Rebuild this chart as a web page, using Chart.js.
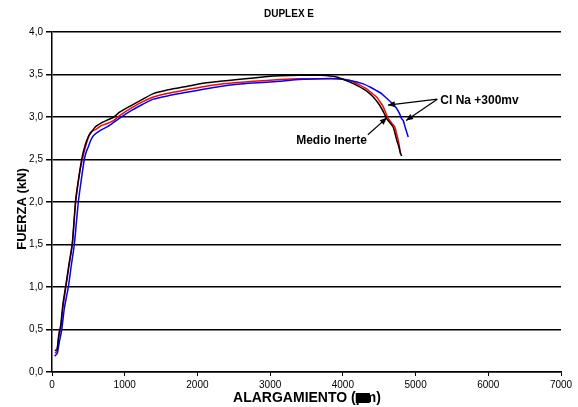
<!DOCTYPE html>
<html>
<head>
<meta charset="utf-8">
<script src="https://cdn.jsdelivr.net/npm/chart.js@4.4.1/dist/chart.umd.min.js"></script>
<style>
html,body{margin:0;padding:0;background:#fff;}
#wrap{width:578px;height:407px;}
</style>
</head>
<body>
<div id="wrap"><canvas id="c" width="578" height="407"></canvas></div>
<script>
// ---- Data (alargamiento, fuerza) ----
const chartTitle = "DUPLEX E";
const xTitle = "ALARGAMIENTO (µm)";
const yTitle = "FUERZA (kN)";
const xTicks = [0,1000,2000,3000,4000,5000,6000,7000];
const yTicks = [0,0.5,1,1.5,2,2.5,3,3.5,4];

const inerteX = [40,70,95,120,150,190,230,280,325,385,420,460,500,540,591,680,752,850,935,1100,1250,1393,1600,1852,2100,2310,2550,2768,3000,3135,3400,3700,3914,4098,4200,4280,4350,4418,4480,4533,4570,4602,4650,4693,4720,4740,4770,4790,4808];
const inerteY = [0.25,0.27,0.45,0.55,0.8,1.02,1.25,1.52,2.02,2.38,2.55,2.68,2.77,2.82,2.88,2.93,2.96,3.0,3.06,3.14,3.21,3.275,3.32,3.36,3.40,3.42,3.44,3.46,3.48,3.485,3.49,3.49,3.47,3.41,3.37,3.33,3.29,3.235,3.17,3.10,3.04,2.98,2.93,2.88,2.80,2.73,2.65,2.58,2.54];

const redX = [41,70,90,119,150,192,235,280,326,385,417,460,500,522,545,614,680,752,850,935,1100,1250,1393,1600,1852,2100,2310,2550,2768,3135,3400,3700,3914,4098,4200,4327,4400,4464,4510,4556,4590,4625,4670,4716,4740,4761,4780,4795];
const redY = [0.22,0.25,0.4,0.5,0.75,1.0,1.25,1.5,2.0,2.37,2.5,2.65,2.76,2.81,2.83,2.86,2.9,2.92,2.96,3.02,3.11,3.18,3.235,3.28,3.32,3.36,3.385,3.405,3.42,3.44,3.45,3.45,3.45,3.43,3.39,3.33,3.28,3.235,3.18,3.12,3.05,2.98,2.93,2.88,2.80,2.73,2.64,2.56];

const blueX = [37,73,100,133,170,225,265,307,362,398,444,475,500,530,568,660,750,821,935,1100,1250,1393,1600,1852,2100,2310,2550,2768,3135,3400,3700,3914,4098,4281,4380,4464,4540,4602,4680,4740,4780,4808,4830,4860,4899];
const blueY = [0.185,0.22,0.35,0.49,0.75,1.0,1.25,1.5,2.0,2.23,2.5,2.6,2.65,2.72,2.78,2.84,2.88,2.92,2.99,3.08,3.15,3.21,3.25,3.29,3.33,3.36,3.385,3.40,3.42,3.44,3.45,3.45,3.43,3.39,3.35,3.31,3.27,3.22,3.16,3.10,3.04,2.98,2.96,2.87,2.765];

// annotation anchors in data units
const clNaLabel = "Cl Na +300mv";
const clNaText = [5340, 3.21];
const clNaTargets = [[4620, 3.14],[4870, 2.96]];
const inerteLabel = "Medio Inerte";
const inerteText = [4330, 2.72];
const inerteTarget = [4605, 2.99];

function pts(xs, ys){ return xs.map((x,i)=>({x:x, y:ys[i]})); }

function arrow(ctx, x1, y1, x2, y2){
  ctx.beginPath(); ctx.moveTo(x1,y1); ctx.lineTo(x2,y2); ctx.stroke();
  const a = Math.atan2(y2-y1, x2-x1), L = 7, W = 3;
  ctx.beginPath();
  ctx.moveTo(x2,y2);
  ctx.lineTo(x2 - L*Math.cos(a) + W*Math.sin(a), y2 - L*Math.sin(a) - W*Math.cos(a));
  ctx.lineTo(x2 - L*Math.cos(a) - W*Math.sin(a), y2 - L*Math.sin(a) + W*Math.cos(a));
  ctx.closePath(); ctx.fill();
}

const textPlugin = {
  id: 'texts',
  afterDraw(chart){
    const ctx = chart.ctx, xs = chart.scales.x, ys = chart.scales.y;
    ctx.save();
    ctx.fillStyle = '#000'; ctx.strokeStyle = '#000';
    // title
    ctx.font = 'bold 10px "Liberation Sans", Arial, sans-serif';
    ctx.textAlign = 'center'; ctx.textBaseline = 'middle';
    ctx.fillText(chartTitle, 289, 14);
    // x title
    ctx.font = 'bold 14px "Liberation Sans", Arial, sans-serif';
    ctx.fillText(xTitle, 307, 398);
    const full = ctx.measureText(xTitle).width;
    const pre = ctx.measureText("ALARGAMIENTO (").width;
    const mu = ctx.measureText("µ").width;
    const sx = 307 - full/2 + pre;
    ctx.fillRect(sx, 393, mu + 6, 10);
    // y title
    ctx.font = 'bold 13px "Liberation Sans", Arial, sans-serif';
    ctx.save();
    ctx.translate(22, 209);
    ctx.rotate(-Math.PI/2);
    ctx.fillText(yTitle, 0, 0);
    ctx.restore();
    // annotations
    ctx.font = 'bold 12px "Liberation Sans", Arial, sans-serif';
    ctx.lineWidth = 1.2;
    const tx = xs.getPixelForValue(clNaText[0]), ty = ys.getPixelForValue(clNaText[1]);
    ctx.textAlign = 'left';
    ctx.fillText(clNaLabel, tx, ty + 2);
    clNaTargets.forEach(t => arrow(ctx, tx - 3, ty, xs.getPixelForValue(t[0]), ys.getPixelForValue(t[1])));
    const mx = xs.getPixelForValue(inerteText[0]), my = ys.getPixelForValue(inerteText[1]);
    ctx.textAlign = 'right';
    ctx.fillText(inerteLabel, mx, my);
    arrow(ctx, mx + 1, my - 6, xs.getPixelForValue(inerteTarget[0]), ys.getPixelForValue(inerteTarget[1]));
    ctx.restore();
  }
};

new Chart(document.getElementById('c'), {
  type: 'scatter',
  data: {
    datasets: [
      {label: 'Medio Inerte', data: pts(inerteX, inerteY), borderColor: '#000000'},
      {label: 'Cl Na +300mv (azul)', data: pts(blueX, blueY), borderColor: '#0000ff'},
      {label: 'Cl Na +300mv (rojo)', data: pts(redX, redY), borderColor: '#ff0000'}
    ].map(d => Object.assign(d, {showLine: true, pointRadius: 0, borderWidth: 1.5, tension: 0.2, fill: false}))
  },
  options: {
    responsive: false,
    animation: false,
    layout: {padding: {left: 0, right: 17, top: 32, bottom: 0}},
    plugins: {legend: {display: false}, tooltip: {enabled: false}, title: {display: false}},
    scales: {
      x: {
        type: 'linear', min: 0, max: 7000,
        afterBuildTicks: s => { s.ticks = xTicks.map(v => ({value: v})); },
        afterFit: s => { s.height = 35; },
        grid: {drawOnChartArea: false, drawTicks: true, tickLength: 4, color: '#000', lineWidth: 1},
        border: {color: '#000', width: 1.5},
        ticks: {color: '#000', font: {family: '"Liberation Sans", Arial, sans-serif', size: 10}, padding: 3, maxRotation: 0,
          callback: v => String(v)}
      },
      y: {
        type: 'linear', min: 0, max: 4,
        afterBuildTicks: s => { s.ticks = yTicks.map(v => ({value: v})); },
        afterFit: s => { s.width = 52; },
        grid: {color: '#000', lineWidth: 1.5, tickLength: 6},
        border: {color: '#000', width: 1.5},
        ticks: {color: '#000', font: {family: '"Liberation Sans", Arial, sans-serif', size: 10}, padding: 3,
          callback: v => v.toFixed(1).replace('.', ',')}
      }
    }
  },
  plugins: [textPlugin]
});
</script>
</body>
</html>
